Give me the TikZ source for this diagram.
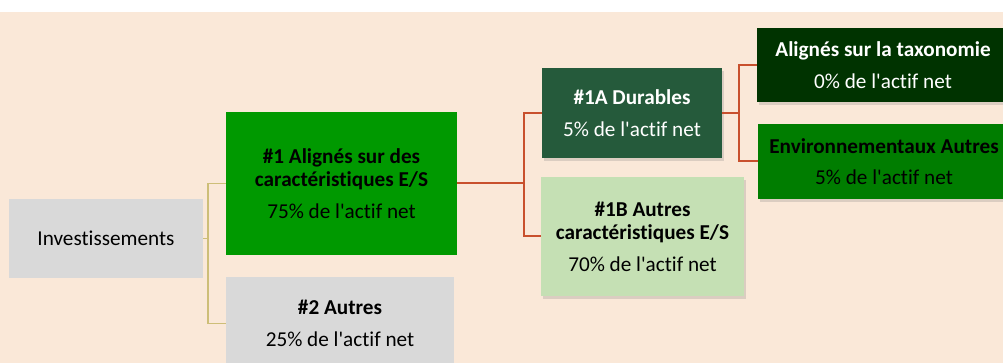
\documentclass[tikz,border=0pt]{standalone}
\usepackage{fontspec}
\setmainfont{Carlito}[Ligatures=NoCommon]
\usetikzlibrary{shadows}

\definecolor{peach}{HTML}{FAE8D8}
\definecolor{boxgray}{HTML}{D9D9D9}
\definecolor{greenA}{HTML}{009900}
\definecolor{greenB}{HTML}{255A3B}
\definecolor{greenC}{HTML}{C5E0B4}
\definecolor{greenD}{HTML}{003300}
\definecolor{greenE}{HTML}{007D00}
\definecolor{linegold}{HTML}{CDBE78}
\definecolor{linered}{HTML}{C8502D}
\newcommand{\ap}{\textquotesingle}

\begin{document}
\begin{tikzpicture}[x=1pt,y=-1pt,
    box/.style={rectangle,inner sep=0pt,align=center,font=\fontsize{21.2}{23.5}\selectfont},
    shad/.style={drop shadow={opacity=.25,shadow xshift=2pt,shadow yshift=-3pt}},
    goldline/.style={draw=linegold,line width=1.4pt},
    redline/.style={draw=linered,line width=2pt}]
    \useasboundingbox (0,0) rectangle (1003,363);
    \fill[peach] (0,12) rectangle (1003,363);
    % first level
    \node[box,fill=boxgray,minimum width=194,minimum height=79] (inv) at (106,238.5) {Investissements};
    \node[box,fill=greenA,minimum width=231,minimum height=143] (n1) at (341.5,183.5)
    {\textbf{\#1 Alignés sur des}\\\textbf{caractéristiques E/S}\\[8pt]75\% de l\ap actif net};
    \node[box,fill=boxgray,minimum width=228,minimum height=93] (n2) at (340,323.5)
    {\textbf{\#2 Autres}\\[8pt]25\% de l\ap actif net};
    % second level
    \node[box,shad,fill=greenB,text=white,minimum width=180,minimum height=90] (n1a) at (632,113)
    {\textbf{\#1A Durables}\\[8pt]5\% de l\ap actif net};
    \node[box,shad,fill=greenC,minimum width=203,minimum height=119] (n1b) at (642.5,236.5)
    {\textbf{\#1B Autres}\\\textbf{caractéristiques E/S}\\[8pt]70\% de l\ap actif net};
    % third level
    \node[box,shad,fill=greenD,text=white,minimum width=252,minimum height=74] (tax) at (883,65)
    {\textbf{Alignés sur la taxonomie}\\[8pt]0\% de l\ap actif net};
    \node[box,shad,fill=greenE,minimum width=252,minimum height=75] (env) at (884,161.5)
    {\textbf{Environnementaux Autres}\\[8pt]5\% de l\ap actif net};
    % connectors
    \draw[goldline] (inv.east) -| ([xshift=-18]n1.west) -- (n1.west);
    \draw[goldline] (inv.east) -| ([xshift=-18]n2.west) -- (n2.west);
    \draw[redline] (n1.east) -| ([xshift=-18]n1a.west) -- (n1a.west);
    \draw[redline] (n1.east) -| ([xshift=-17]n1b.west) -- (n1b.west);
    \draw[redline] (n1a.east) -| ([xshift=-18]tax.west) -- (tax.west);
    \draw[redline] (n1a.east) -| ([xshift=-19]env.west) -- (env.west);
\end{tikzpicture}
\end{document}
